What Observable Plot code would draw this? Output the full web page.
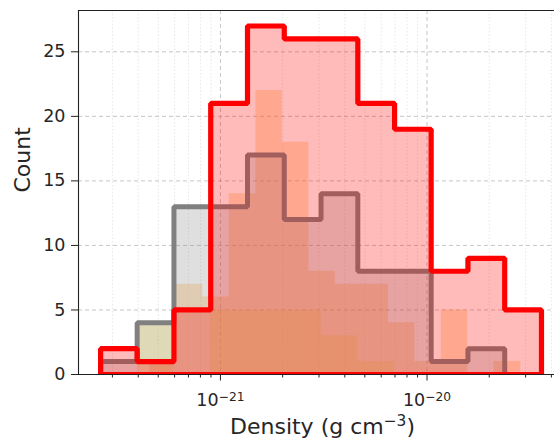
<!DOCTYPE html>
<html><head><meta charset="utf-8">
<script src="https://cdn.jsdelivr.net/npm/d3@7"></script>
<script src="https://cdn.jsdelivr.net/npm/@observablehq/plot@0.6"></script>
<style>body{margin:0;background:#fff} svg{display:block}</style>
</head><body><div id="chart"></div>
<script>
// bin edges as log10(density)
const coarseEdgesLog = [-21.580, -21.403, -21.225, -21.047, -20.869, -20.691, -20.513, -20.335, -20.157, -19.980, -19.802, -19.624, -19.446];
const redCounts  = [2, 1, 5, 21, 27, 26, 26, 21, 19, 8, 9, 5];
const grayCounts = [1, 4, 13, 13, 17, 12, 14, 8, 8, 1, 2, 0];
const goldCounts = [0, 4, 0, 5, 5, 5, 3, 1, 0, 0, 0, 0];
const fineEdgesLog = [-21.341, -21.213, -21.085, -20.957, -20.828, -20.700, -20.572, -20.444, -20.316, -20.187, -20.059, -19.931, -19.803, -19.675, -19.546];
const orangeCounts = [1, 7, 6, 14, 22, 18, 8, 7, 7, 4, 1, 5, 0, 1];
const yTicks = [0, 5, 10, 15, 20, 25];
const xMajorExp = [-21, -20];
const xMinorVals = [3e-22, 4e-22, 5e-22, 6e-22, 7e-22, 8e-22, 9e-22, 2e-21, 3e-21, 4e-21, 5e-21, 6e-21, 7e-21, 8e-21, 9e-21, 2e-20, 3e-20, 4e-20];
const xLimLog = [-21.687, -19.383];
const yLim = [0, 28.2];

const xMajorVals = xMajorExp.map(e => 10 ** e);

function stepPts(edgesLog, counts) {
  const pts = counts.map((c, i) => ({x: 10 ** edgesLog[i], y: c}));
  pts.push({x: 10 ** edgesLog[counts.length], y: counts[counts.length - 1]});
  return pts;
}
function outline(edgesLog, counts) {
  const pts = [{x: 10 ** edgesLog[0], y: 0}];
  counts.forEach((c, i) => {
    pts.push({x: 10 ** edgesLog[i], y: c});
    pts.push({x: 10 ** edgesLog[i + 1], y: c});
  });
  pts.push({x: 10 ** edgesLog[counts.length], y: 0});
  pts.push({x: 10 ** edgesLog[0], y: 0});
  return pts;
}
const fillOpts = (fill, op) => ({x: "x", y1: 0, y2: "y", curve: "step-after", fill, fillOpacity: op});

const chart = Plot.plot({
  width: 554, height: 441,
  marginLeft: 78, marginRight: 0, marginTop: 10, marginBottom: 67,
  style: {fontFamily: "'DejaVu Sans', sans-serif", fontSize: "16px", color: "#262626", background: "#fff"},
  x: {type: "log", domain: [10 ** xLimLog[0], 10 ** xLimLog[1]], axis: null},
  y: {domain: yLim, axis: null},
  marks: [
    Plot.ruleX(xMinorVals, {stroke: "#dcdcdc", strokeWidth: 0.7, strokeDasharray: "1.5,2"}),
    Plot.ruleX(xMajorVals, {stroke: "#b8b8b8", strokeWidth: 0.8, strokeDasharray: "4,3"}),
    Plot.ruleY(yTicks.slice(1), {stroke: "#b8b8b8", strokeWidth: 0.8, strokeDasharray: "4,3"}),
    Plot.areaY(stepPts(coarseEdgesLog, goldCounts), fillOpts("#ffe650", 0.3)),
    Plot.areaY(stepPts(fineEdgesLog, orangeCounts), fillOpts("#ffb04a", 0.32)),
    Plot.areaY(stepPts(coarseEdgesLog, grayCounts), fillOpts("gray", 0.25)),
    Plot.line(outline(coarseEdgesLog, grayCounts), {x: "x", y: "y", stroke: "gray", strokeWidth: 5, strokeLinejoin: "miter", clip: true}),
    Plot.areaY(stepPts(coarseEdgesLog, redCounts), fillOpts("red", 0.27)),
    Plot.line(outline(coarseEdgesLog, redCounts), {x: "x", y: "y", stroke: "red", strokeWidth: 5.2, strokeLinejoin: "miter", clip: true}),
    Plot.ruleX([10 ** xLimLog[0]], {stroke: "#222", strokeWidth: 1.1}),
    Plot.ruleY([yLim[0], yLim[1]], {stroke: "#222", strokeWidth: 1.1}),
    Plot.axisY({ticks: yTicks, tickSize: 7, tickPadding: 6, label: null, stroke: "#222"}),
    Plot.axisX({ticks: xMajorVals, tickSize: 6.5, tickPadding: 13, label: null, stroke: "#222", tickFormat: d => "10^" + Math.round(Math.log10(d))}),
    Plot.axisX({ticks: xMinorVals, tickSize: 3.5, label: null, stroke: "#222", tickFormat: () => ""}),
    Plot.text(["Count"], {frameAnchor: "left", rotate: -90, dx: -56, fontSize: 22}),
    Plot.text(["Density (g cm^-3)"], {frameAnchor: "bottom", dy: 59, dx: 6, fontSize: 22})
  ]
});
document.getElementById("chart").appendChild(chart);

// tick label sizes
d3.select(chart).selectAll('g[aria-label="y-axis tick label"] text').attr("font-size", 17.5).style("font-size", "17.5px");
d3.select(chart).selectAll('g[aria-label="x-axis tick label"] text').attr("font-size", 17.5).style("font-size", "17.5px");

// render exponents as superscripts
d3.select(chart).selectAll("text").each(function () {
  const t = this.textContent;
  const m = t.match(/^(.*)\^(-?\d+)(.*)$/);
  if (!m) return;
  const sel = d3.select(this);
  sel.selectAll("*").remove();
  sel.text(null);
  sel.append("tspan").text(m[1]);
  sel.append("tspan").attr("dy", "-0.48em").attr("font-size", "0.7em").text(m[2].replace("-", "\u2212"));
  if (m[3]) sel.append("tspan").attr("dy", "0.34em").text(m[3]);
});
</script>
</body></html>
